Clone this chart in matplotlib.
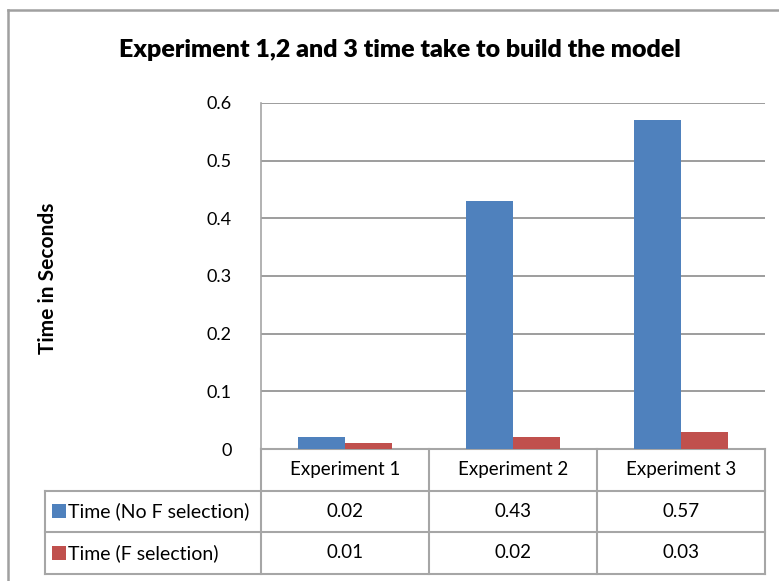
import matplotlib
matplotlib.use("Agg")
import matplotlib.pyplot as plt
from matplotlib.patches import Rectangle

plt.rcParams['font.family'] = ['Lato', 'DejaVu Sans']

# data
experiments = ["Experiment 1", "Experiment 2", "Experiment 3"]
series_names = ["Time (No F selection)", "Time (F selection)"]
no_f_sel = [0.02, 0.43, 0.57]
f_sel = [0.01, 0.02, 0.03]
series = [no_f_sel, f_sel]
colors = ["#4F81BD", "#C0504D"]
yticks = [0, 0.1, 0.2, 0.3, 0.4, 0.5, 0.6]

grid_col = "#8C8C8C"
tbl_col = "#A6A6A6"

fig = plt.figure(figsize=(7.79, 5.81), dpi=100)
# outer chart border (cut off on right/bottom like the source)
fig.add_artist(plt.Line2D([8 / 779, 1.0], [1 - 10 / 581] * 2, color="#A0A0A0", lw=1.8))
fig.add_artist(plt.Line2D([8 / 779] * 2, [0.0, 1 - 10 / 581], color="#A0A0A0", lw=1.8))

ax = fig.add_axes([261 / 779, 1 - 449 / 581, 504 / 779, 346 / 581])

x = list(range(len(experiments)))
w = 0.28
for i, (vals, c) in enumerate(zip(series, colors)):
    offs = (i - 0.5) * w
    ax.bar([p + offs for p in x], vals, width=w, color=c, zorder=3,
           edgecolor="none")

ax.set_xlim(-0.5, len(experiments) - 0.5)
ax.set_ylim(0, 0.6)
ax.set_yticks(yticks)
ax.set_yticklabels([f"{t:g}" for t in yticks], fontsize=13)
ax.tick_params(axis="y", length=0, pad=21)
ax.set_xticks([])
ax.yaxis.grid(True, color=grid_col, lw=1.2, zorder=0)
for s in ["top", "right", "bottom"]:
    ax.spines[s].set_visible(False)
ax.spines["left"].set_color(tbl_col)
ax.spines["left"].set_linewidth(1.2)

fig.text(400 / 779, 1 - 50 / 581, "Experiment 1,2 and 3 time take to build the model",
         fontsize=18, fontweight="heavy", ha="center", va="center")
fig.text(48 / 779, 1 - 278 / 581, "Time in Seconds", rotation=90,
         fontsize=15, fontweight="bold", ha="center", va="center")

# data table under the plot
tr = ax.get_xaxis_transform()
row_h = 41.5 / 346
label_left = -0.5 - 216 / 168
right = len(experiments) - 0.5
y_rows = [0, -row_h, -2 * row_h, -3 * row_h]
line_kw = dict(color=tbl_col, lw=1.5, transform=tr, clip_on=False)

# horizontal lines
ax.plot([-0.5, right], [y_rows[0]] * 2, **line_kw)
for yy in y_rows[1:]:
    ax.plot([label_left, right], [yy] * 2, **line_kw)
# vertical lines
ax.plot([-0.5, -0.5], [y_rows[0], y_rows[3]], **line_kw)
for k in range(1, len(experiments) + 1):
    ax.plot([k - 0.5, k - 0.5], [y_rows[0], y_rows[3]], **line_kw)
ax.plot([label_left, label_left], [y_rows[1], y_rows[3]], **line_kw)

for p, name in zip(x, experiments):
    ax.text(p, (y_rows[0] + y_rows[1]) / 2, name, transform=tr,
            ha="center", va="center", fontsize=13.5)

sq_w = 14 / 168
sq_h = 14 / 346
for r, (name, vals, c) in enumerate(zip(series_names, series, colors)):
    yc = (y_rows[r + 1] + y_rows[r + 2]) / 2
    ax.add_patch(Rectangle((label_left + 7 / 168, yc - sq_h / 2), sq_w, sq_h,
                           facecolor=c, edgecolor="none", transform=tr,
                           clip_on=False))
    ax.text(label_left + 23 / 168, yc, name, transform=tr, ha="left",
            va="center", fontsize=14)
    for p, v in zip(x, vals):
        ax.text(p, yc, f"{v:.2f}", transform=tr, ha="center", va="center",
                fontsize=13.5)

fig.savefig("out.png", dpi=100)
